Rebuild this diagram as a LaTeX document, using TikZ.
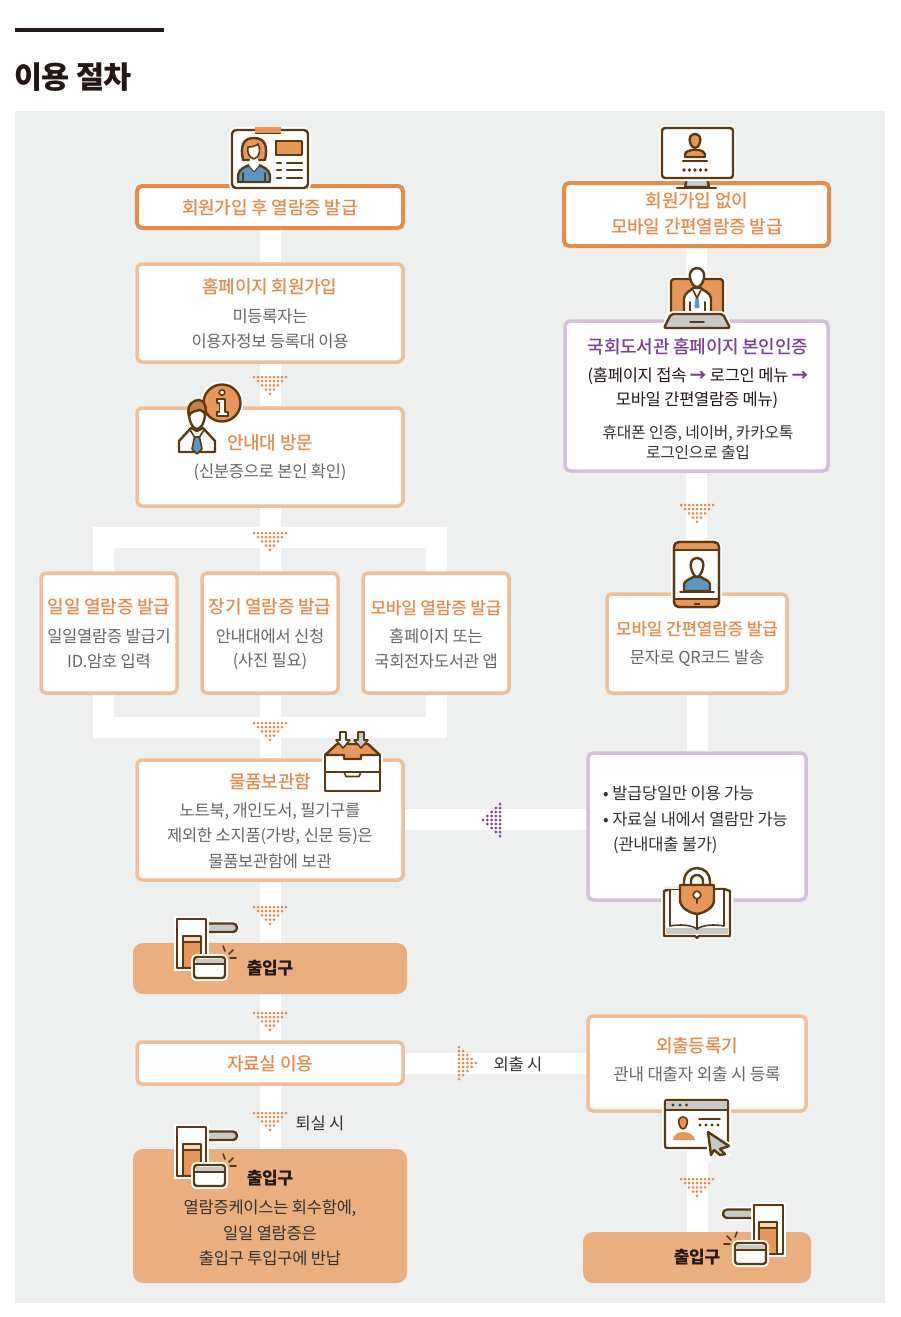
\documentclass[tikz,border=0pt]{standalone}
\usepackage{fontspec}
\newfontfamily\kr[LetterSpace=-1.5]{Noto Sans CJK KR}
\newfontfamily\krm[LetterSpace=-1.5]{Noto Sans CJK KR Medium}
\newcommand{\krb}{\kr\bfseries}
\definecolor{bgc}{HTML}{EEEFEF}
\definecolor{ord}{HTML}{E58B4B}
\definecolor{orl}{HTML}{F1BE96}
\definecolor{orf}{HTML}{EBAE7F}
\definecolor{prp}{HTML}{7C3F98}
\definecolor{prl}{HTML}{D4BFDD}
\definecolor{txg}{HTML}{666666}
\definecolor{txd}{HTML}{333333}
\definecolor{txk}{HTML}{231815}
\definecolor{icb}{HTML}{5B3A12}
\definecolor{ico}{HTML}{E8975B}
\definecolor{icu}{HTML}{5B96C8}
\definecolor{icg}{HTML}{C9C9C9}
\pgfdeclarelayer{back}\pgfdeclarelayer{bars}\pgfdeclarelayer{front}
\pgfsetlayers{back,bars,main,front}
\tikzset{
  flowbox/.style={rectangle,rounded corners=5pt,fill=white,inner sep=0pt,anchor=center},
  boxdark/.style={flowbox,draw=ord,line width=4pt},
  boxlight/.style={flowbox,draw=orl,line width=3.5pt},
  boxpurple/.style={flowbox,draw=prl,line width=3.5pt},
  boxfill/.style={rectangle,rounded corners=10pt,fill=orf,inner sep=0pt,anchor=center},
  bar/.style={draw=white,line width=21pt},
  ttl/.style={font=\krm\fontsize{18}{18}\selectfont,text=ord,inner sep=0pt,anchor=center,yshift=-1pt},
  ttls/.style={ttl,font=\krm\fontsize{17}{17}\selectfont},
  ttlp/.style={ttl,text=prp},
  bdy/.style={font=\kr\fontsize{16.5}{16.5}\selectfont,text=txg,inner sep=0pt,anchor=center,yshift=-1pt},
  bdd/.style={bdy,text=txd},
  gatetxt/.style={font=\krb\fontsize{17}{17}\selectfont,text=txk,inner sep=0pt,anchor=center},
  ic/.style={draw=icb,line width=2.4pt,line join=round,line cap=round},
  icthin/.style={ic,line width=1.6pt},
  halo/.style={preaction={draw=white,line width=6pt}}
}
\newcommand{\mkbox}[6]{%
  \pgfmathsetmacro{\cxx}{(#3+#5)/2}\pgfmathsetmacro{\cyy}{(#4+#6)/2}%
  \pgfmathsetmacro{\www}{abs(#5-#3)}\pgfmathsetmacro{\hhh}{abs(#6-#4)}%
  \node[#2,minimum width=\www pt,minimum height=\hhh pt] (#1) at (\cxx,\cyy) {};}
\newcommand{\dotdown}[3]{%
  \foreach \rr in {0,...,4}{\pgfmathtruncatemacro{\mm}{8-2*\rr}%
    \foreach \cc in {0,...,\mm}{\fill[#3] ({#1-4*(4-\rr)+4*\cc},{#2+4.2*\rr}) circle (1.5);}}}
\newcommand{\dotleft}[3]{%
  \foreach \rr in {0,...,4}{\pgfmathtruncatemacro{\mm}{8-2*\rr}%
    \foreach \cc in {0,...,\mm}{\fill[#3] ({#1-4.2*\rr},{#2-4*(4-\rr)+4*\cc}) circle (1.5);}}}
\newcommand{\dotright}[3]{%
  \foreach \rr in {0,...,4}{\pgfmathtruncatemacro{\mm}{8-2*\rr}%
    \foreach \cc in {0,...,\mm}{\fill[#3] ({#1+4.2*\rr},{#2-4*(4-\rr)+4*\cc}) circle (1.5);}}}
\newcommand{\gateicon}{%
  \draw[ic,halo,fill=icg,rounded corners=4pt] (206,923.5) -- (237,923.5) -- (237,932) -- (206,932);
  \draw[ic,halo,fill=white] (177,919) rectangle (206,968);
  \draw[ic,fill=ico] (183,936) rectangle (201,968);
  \fill[white!60!ico] (184,937) rectangle (200,941);
  \draw[icthin] (183,942) -- (201,942);
  \draw[ic,halo,fill=white,rounded corners=3pt] (194,957) rectangle (225,978);
  \fill[icg] (195.5,958.5) rectangle (223.5,964);
  \draw[icb,line width=1.4pt] (194,964) -- (225,964);
  \draw[icthin] (225,951) -- (223,946) (229,954) -- (233,950) (230,958) -- (236,958);
}
\begin{document}
\begin{tikzpicture}[x=1pt,y=-1pt]
\useasboundingbox (0,0) rectangle (900,1317);
\begin{pgfonlayer}{back}
\fill[white] (0,0) rectangle (900,1317);
\fill[bgc] (15,111) rectangle (885,1303);
\end{pgfonlayer}
\fill[txk] (15,28) rectangle (164,32);
\node[font=\krb\fontsize{30.5}{30.5}\selectfont,text=txk,inner sep=0pt,anchor=center] (title) at (73,77) {이용 절차};
% boxes
\mkbox{ba}{boxdark}{137}{186}{403}{228}
\mkbox{bb}{boxlight}{137}{264}{403}{362}
\mkbox{bc}{boxlight}{137}{408}{403}{506}
\mkbox{bd}{boxlight}{41}{573}{177}{693}
\mkbox{be}{boxlight}{202}{573}{338}{693}
\mkbox{bf}{boxlight}{363}{573}{509}{693}
\mkbox{bg}{boxlight}{137}{760}{403}{880}
\mkbox{bh}{boxfill}{133}{943}{407}{994}
\mkbox{bi}{boxlight}{137}{1042}{403}{1084}
\mkbox{bj}{boxfill}{133}{1149}{407}{1283}
\mkbox{ra}{boxdark}{564}{183}{829}{246}
\mkbox{rb}{boxpurple}{565}{321}{828}{471}
\mkbox{rc}{boxlight}{607}{594}{787}{693}
\mkbox{rd}{boxpurple}{588}{753}{806}{900}
\mkbox{re}{boxlight}{588}{1016}{806}{1111}
\mkbox{rf}{boxfill}{583}{1232}{811}{1283}
\coordinate (ftl) at (103.5,537);
\coordinate (ftr) at (436.5,537);
\coordinate (fbr) at (436.5,727.5);
\coordinate (fbl) at (103.5,727.5);
\begin{pgfonlayer}{bars}
\draw[bar] (ba.south) -- (bb.north);
\draw[bar] (bb.south) -- (bc.north);
\draw[bar] (bc.south) -- (be.north);
\draw[bar] (be.south) -- (bg.north);
\draw[bar] (bg.south) -- (bh.north);
\draw[bar] (bh.south) -- (bi.north);
\draw[bar] (bi.south) -- (bj.north);
\draw[bar] (ftl) -- (ftr) -- (fbr) -- (fbl) -- cycle;
\draw[bar] (ra.south) -- (rb.north);
\draw[bar] (rb.south) -- (rc.north);
\draw[bar] (rc.south) -- (rd.north);
\draw[bar] (re.south) -- (rf.north);
\draw[bar] (bg.east |- 0,819.5) -- (rd.west |- 0,819.5);
\draw[bar] (bi.east) -- (bi.east -| re.west);
\end{pgfonlayer}
% texts
\node[ttl] (t1) at (270,207) {회원가입 후 열람증 발급};
\node[ttl] (t2) at (270,286) {홈페이지 회원가입};
\node[bdy] (t3) at (270,315) {미등록자는};
\node[bdy] (t4) at (270,340) {이용자정보 등록대 이용};
\node[ttl] (t5) at (270,442) {안내대 방문};
\node[bdy] (t6) at (270,471) {(신분증으로 본인 확인)};
\node[ttl] (t7) at (109,606) {일일 열람증 발급};
\node[bdy] (t8) at (109,635) {일일열람증 발급기};
\node[bdy] (t9) at (109,660) {ID.암호 입력};
\node[ttl] (t10) at (270,606) {장기 열람증 발급};
\node[bdy] (t11) at (270,635) {안내대에서 신청};
\node[bdy] (t12) at (270,660) {(사진 필요)};
\node[ttls] (t13) at (436,607) {모바일 열람증 발급};
\node[bdy] (t14) at (436,635) {홈페이지 또는};
\node[bdy] (t15) at (436,660) {국회전자도서관 앱};
\node[ttl] (t16) at (270,781) {물품보관함};
\node[bdy] (t17) at (270,810) {노트북, 개인도서, 필기구를};
\node[bdy] (t18) at (270,835) {제외한 소지품(가방, 신문 등)은};
\node[bdy] (t19) at (270,860) {물품보관함에 보관};
\node[gatetxt] (t20) at (270,968) {출입구};
\node[ttl] (t21) at (270,1063) {자료실 이용};
\node[bdd] (t22) at (320,1122) {퇴실 시};
\node[gatetxt] (t23) at (270,1178) {출입구};
\node[bdd] (t24) at (270,1207) {열람증케이스는 회수함에,};
\node[bdd] (t25) at (270,1232) {일일 열람증은};
\node[bdd] (t26) at (270,1257) {출입구 투입구에 반납};
\node[ttl] (r1) at (697,200) {회원가입 없이};
\node[ttl] (r2) at (697,226) {모바일 간편열람증 발급};
\node[ttlp] (r3) at (698,346) {국회도서관 홈페이지 본인인증};
\node[bdd,text=txk] (r4) at (698,375) {(홈페이지 접속 \textcolor{prp}{\krb→} 로그인 메뉴 \textcolor{prp}{\krb→}};
\node[bdd,text=txk] (r5) at (697,399) {모바일 간편열람증 메뉴)};
\node[bdd,font=\kr\fontsize{15.8}{15.8}\selectfont] (r6) at (698,432) {휴대폰 인증, 네이버, 카카오톡};
\node[bdd,font=\kr\fontsize{15.8}{15.8}\selectfont] (r7) at (698,451) {로그인으로 출입};
\node[ttls] (r8) at (697,628) {모바일 간편열람증 발급};
\node[bdy] (r9) at (697,657) {문자로 QR코드 발송};
\node[bdd,anchor=west] (r10) at (603,792) {• 발급당일만 이용 가능};
\node[bdd,anchor=west] (r11) at (603,818) {• 자료실 내에서 열람만 가능};
\node[bdd,anchor=west] (r12) at (613,844) {(관내대출 불가)};
\node[ttl] (r13) at (697,1045) {외출등록기};
\node[bdy,font=\kr\fontsize{16.8}{16.8}\selectfont] (r14) at (697,1073) {관내 대출자 외출 시 등록};
\node[bdd] (r15) at (518,1063) {외출 시};
\node[gatetxt] (r16) at (697,1257) {출입구};
% dotted arrows
\dotdown{270}{377}{ord}
\dotdown{270}{533}{ord}
\dotdown{270}{723}{ord}
\dotdown{270}{907}{ord}
\dotdown{270}{1013}{ord}
\dotdown{270}{1113}{ord}
\dotdown{697}{505}{ord}
\dotdown{697}{1179}{ord}
\dotleft{500}{820}{prp}
\dotright{459}{1063}{ord}
\begin{pgfonlayer}{front}
% ID card
\draw[ic,halo,fill=white,rounded corners=4pt] (232,130) rectangle (308,188);
\fill[ico] (255,127) rectangle (281,133);
\draw[icb,line width=1pt] (255,133) -- (281,133);
\draw[ic,fill=ico] (243,160) .. controls (240,146) and (243,138) .. (254,138) .. controls (265,138) and (268,146) .. (265,160) -- cycle;
\draw[ic,fill=icu] (238,182) -- (238,175) .. controls (239,169) and (245,167) .. (249,165) -- (254,171) -- (259,165) .. controls (263,167) and (269,169) .. (270,175) -- (270,182) -- cycle;
\fill[white] (249,165) -- (254,171) -- (259,165) -- (258,158) -- (250,158) -- cycle;
\draw[icthin,fill=white] (254,159) .. controls (249,158) and (247,152) .. (248,147) .. controls (252,147) and (256,146) .. (258,144) .. controls (261,148) and (260,158) .. (254,159) -- cycle;
\draw[ic,fill=ico] (276,141) rectangle (302,155);
\draw[ic] (277,163) -- (281,163) (287,163) -- (302,163) (277,170) -- (281,170) (287,170) -- (302,170) (277,178) -- (281,178) (287,178) -- (302,178);
\draw[icthin] (243,182) -- (243,173) (265,182) -- (265,173);
% monitor
\draw[ic,fill=icg] (687,178) -- (707,178) -- (709,187) -- (685,187) -- cycle;
\draw[ic] (677,188) -- (716,188);
\draw[ic,halo,fill=white,rounded corners=3pt] (662,128) rectangle (733,178);
\draw[ic,fill=ico] (695,134) .. controls (690,134) and (689,139) .. (690,142) .. controls (691,146) and (693,148) .. (695,148) .. controls (697,148) and (699,146) .. (700,142) .. controls (701,139) and (700,134) .. (695,134) -- cycle;
\draw[ic,fill=ico] (685,157) -- (685,154) .. controls (686,151) and (690,151) .. (691,150) -- (699,150) .. controls (701,151) and (704,151) .. (705,154) -- (705,157) -- cycle;
\draw[ic] (683,161) -- (707,161);
\foreach \xx in {684,689.5,695,700.5,706}{\fill[icb] (\xx,170) circle (1.9);}
% laptop
\draw[ic,halo,fill=ico,rounded corners=3pt] (671,279) -- (723,279) -- (723,314) -- (671,314) -- cycle;
\draw[ic,fill=white] (684,313) -- (684,298) .. controls (685,292) and (691,291) .. (693,288) -- (701,288) .. controls (703,291) and (710,292) .. (711,298) -- (711,313);
\draw[ic,fill=white] (697,268) .. controls (691,268) and (689,274) .. (690,278) .. controls (691,283) and (694,287) .. (697,287) .. controls (700,287) and (703,283) .. (704,278) .. controls (705,274) and (703,268) .. (697,268) -- cycle;
\fill[icu] (695.5,298) -- (698.5,298) -- (699.5,308) -- (694.5,308) -- cycle;
\draw[icthin] (690,302) -- (690,313) (705,302) -- (705,313) (693,290) -- (697,298) -- (701,290);
\draw[ic,halo,fill=icg,rounded corners=2pt] (671,314) -- (723,314) -- (730,328) -- (664,328) -- cycle;
\draw[icthin] (690,322) -- (704,322);
% info person
\draw[ic,halo,fill=ico] (222,403) circle (18.5);
\draw[icthin,fill=white] (222,392.5) circle (2.8);
\draw[icthin,fill=white] (217,399) -- (225,399) -- (225,412) -- (228,412) -- (228,416) -- (217,416) -- (217,412) -- (219.5,412) -- (219.5,403) -- (217,403) -- cycle;
\draw[ic,halo,fill=white] (179,452) -- (179,441) -- (191,428) -- (197,431) -- (203,428) -- (215,441) -- (215,452) -- (206,452) -- (188,452) -- cycle;
\draw[ic,fill=white] (197,405) .. controls (190,405) and (188,410) .. (189,416) .. controls (190,423) and (193,429) .. (197,429) .. controls (201,429) and (204,423) .. (205,416) .. controls (206,410) and (204,405) .. (197,405) -- cycle;
\draw[ic,fill=ico!75!icb] (189,416) .. controls (186,404) and (194,400) .. (199,400) .. controls (205,400) and (207,408) .. (205,416) .. controls (205,412) and (203,411) .. (200,410) .. controls (196,411) and (191,411) .. (189,416) -- cycle;
\draw[icthin,fill=icu] (194.5,437) -- (199.5,437) -- (202,449) -- (197,454) -- (192,449) -- cycle;
\draw[icthin] (190,430) -- (194.5,437) -- (199.5,437) -- (204,430);
% phone
\draw[ic,halo,fill=white,rounded corners=5pt] (674,542) rectangle (719,607);
\begin{scope}
\clip[rounded corners=5pt] (674,542) rectangle (719,607);
\fill[ico] (674,542) rectangle (719,550);
\fill[ico] (674,600) rectangle (719,607);
\end{scope}
\draw[ic,rounded corners=5pt] (674,542) rectangle (719,607);
\draw[icthin] (675,550) -- (718,550) (675,599) -- (718,599);
\draw[icb,line width=2pt] (694,603.5) -- (700,603.5);
\draw[ic,fill=icu] (684,591) -- (684,584) .. controls (685,580) and (691,579) .. (693,577) -- (701,577) .. controls (703,579) and (709,580) .. (710,584) -- (710,591) -- cycle;
\draw[ic,fill=white] (697,558) .. controls (691,558) and (690,564) .. (691,568) .. controls (692,573) and (695,577) .. (697,577) .. controls (699,577) and (702,573) .. (703,568) .. controls (704,564) and (703,558) .. (697,558) -- cycle;
\draw[icthin] (680,592) -- (714,592);
% drawer
\draw[ic,halo,fill=white] (325,755) rectangle (380,791);
\draw[ic,fill=ico] (325,755) -- (337,744) -- (368,744) -- (380,755) -- (361,755) -- (361,759) -- (344,759) -- (344,755) -- cycle;
\draw[ic] (325,772) -- (380,772);
\draw[icthin] (344,772) -- (346,776.5) -- (359,776.5) -- (361,772);
\draw[icthin,fill=white] (340,732) -- (346,732) -- (346,740) -- (350,740) -- (343,748) -- (336,740) -- (340,740) -- cycle;
\draw[icthin,fill=icg] (358,732) -- (364,732) -- (364,740) -- (368,740) -- (361,748) -- (354,740) -- (358,740) -- cycle;
% gates
\gateicon
\begin{scope}[shift={(0,208)}]\gateicon\end{scope}
\begin{scope}[xscale=-1,shift={(-960,286)}]\gateicon\end{scope}
% lock and book
\draw[ic,halo,fill=white] (664,891) -- (664,936) -- (695,936) -- (697,938) -- (699,936) -- (730,936) -- (730,891) -- (724,889) -- (670,889) -- cycle;
\fill[icg] (666,928) rectangle (728,934);
\draw[icthin,fill=white] (670,890) -- (670,926) .. controls (680,924) and (692,925) .. (697,929) .. controls (702,925) and (714,924) .. (724,926) -- (724,890);
\fill[bgc] (664,889) rectangle (679,886);
\draw[ic] (697,910) -- (697,929);
\draw[ic,halo,fill=white] (684,886) -- (684,881) arc[start angle=180,end angle=360,radius=13] -- (710,886) -- cycle;
\draw[ic,fill=bgc!50!white] (691,886) -- (691,881) arc[start angle=180,end angle=360,radius=6] -- (703,886) -- cycle;
\draw[ic,fill=ico] (680,885) -- (714,885) -- (714,900) .. controls (714,908) and (704,913) .. (697,914) .. controls (690,913) and (680,908) .. (680,900) -- cycle;
\draw[icthin,fill=white] (697,895) circle (3.8);
\draw[icthin] (697,899) -- (697,903);
% browser
\draw[ic,halo,fill=white,rounded corners=2pt] (665,1100) rectangle (728,1148);
\fill[icg] (666,1101) rectangle (727,1110);
\draw[icthin] (665,1110) -- (728,1110);
\foreach \xx in {673,680,686.5}{\fill[icb] (\xx,1105) circle (1.6);}
\draw[icthin,fill=ico] (683,1117) .. controls (679,1117) and (678,1121) .. (679,1124) .. controls (680,1127) and (681,1129) .. (683,1129) .. controls (685,1129) and (686,1127) .. (687,1124) .. controls (688,1121) and (687,1117) .. (683,1117) -- cycle;
\fill[ico] (673,1140) .. controls (673,1135) and (678,1132) .. (683,1132) .. controls (688,1132) and (695,1135) .. (695,1140) -- cycle;
\draw[icthin] (699,1119) -- (720,1119);
\foreach \xx in {700,706,712,718}{\fill[icb] (\xx,1125) circle (1.6);}
\draw[ic,halo,fill=icg] (708,1132) -- (729,1146) -- (720,1149) -- (725,1154) -- (720,1155) -- (714,1150) -- (711,1155) -- cycle;
\end{pgfonlayer}
\end{tikzpicture}
\end{document}
